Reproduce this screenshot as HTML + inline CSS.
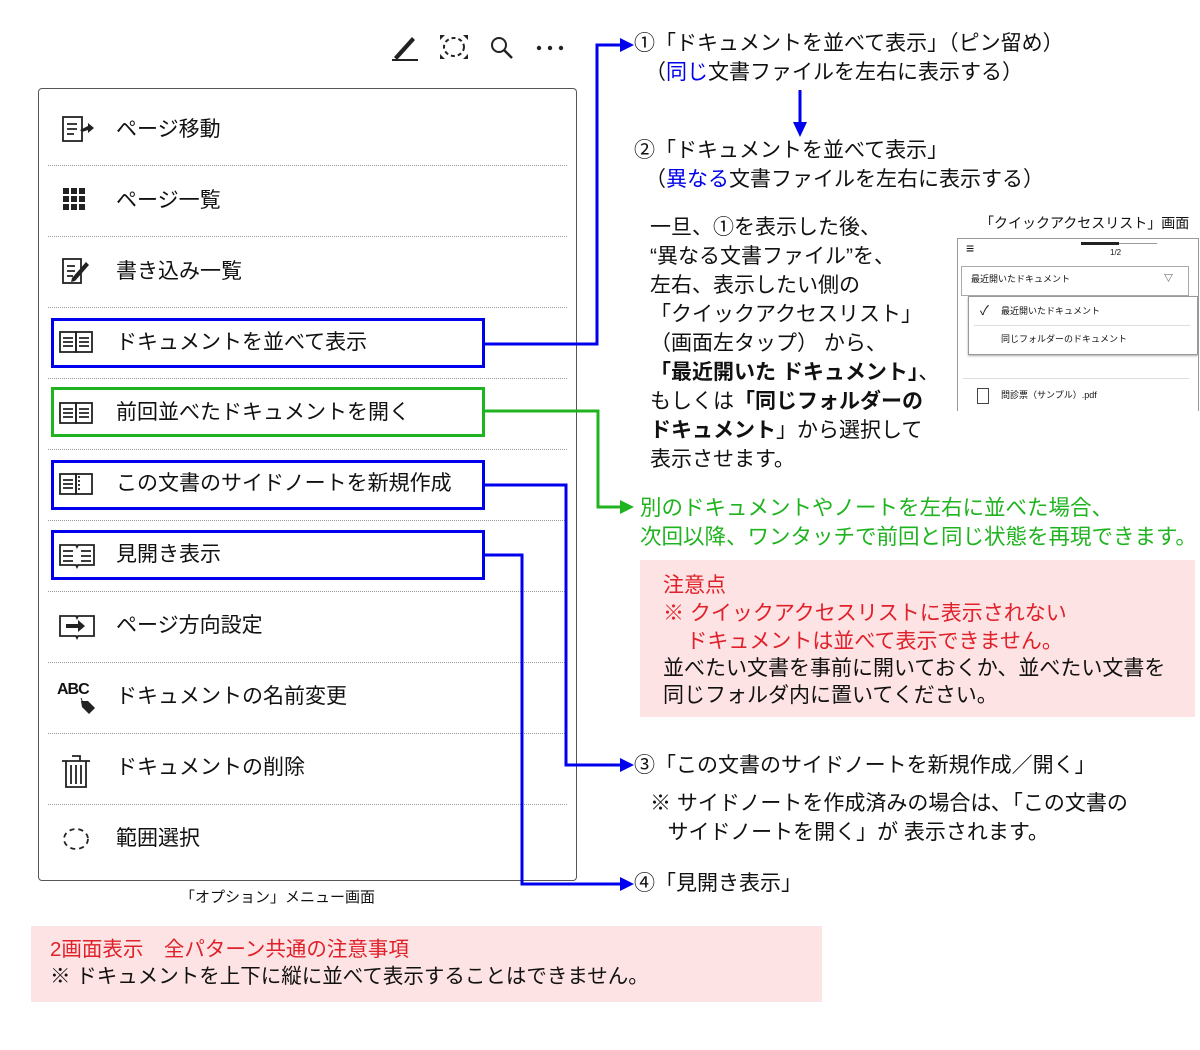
<!DOCTYPE html>
<html><head><meta charset="utf-8"><style>
body{margin:0;width:1200px;height:1050px;background:#fff;position:relative;overflow:hidden;font-family:"Liberation Sans","Noto Sans CJK JP",sans-serif;color:#111}
.t{position:absolute;white-space:nowrap;line-height:1}
.m{font-size:21px;left:116px}
.r{font-size:21px}
.b{color:#0000ee}.g{color:#1fb41f}.red{color:#e0202a}
.sep{position:absolute;left:48px;width:519px;border-top:1px dotted #999}
.hb{position:absolute;left:51px;width:428px;height:44px;border:3px solid #0000ee}
</style></head><body>
<svg style="position:absolute;left:380px;top:25px" width="200" height="45">
<line x1="12" y1="35" x2="38" y2="35" stroke="#222" stroke-width="2"/>
<path d="M14 32 L32 12 L35 15 L17 35 Z" fill="#222"/>
<ellipse cx="74" cy="22" rx="10" ry="9" fill="none" stroke="#222" stroke-width="2" stroke-dasharray="4 3"/>
<path d="M60 10h5l-5 5zM88 10h-5l5 5zM60 34h5l-5-5zM88 34h-5l5-5z" fill="#222"/>
<circle cx="119" cy="20" r="7" fill="none" stroke="#222" stroke-width="2"/><line x1="124" y1="25" x2="132" y2="33" stroke="#222" stroke-width="2.5"/>
<circle cx="159" cy="23" r="2.2" fill="#222"/><circle cx="170" cy="23" r="2.2" fill="#222"/><circle cx="181" cy="23" r="2.2" fill="#222"/>
</svg>
<div style="position:absolute;left:38px;top:88px;width:537px;height:791px;border:1.5px solid #555;border-radius:4px"></div>
<div class="sep" style="top:165px"></div><div class="sep" style="top:236px"></div><div class="sep" style="top:307px"></div><div class="sep" style="top:378px"></div><div class="sep" style="top:449px"></div><div class="sep" style="top:520px"></div><div class="sep" style="top:591px"></div><div class="sep" style="top:662px"></div><div class="sep" style="top:733px"></div><div class="sep" style="top:804px"></div>
<div class="hb" style="top:318px"></div>
<div class="hb" style="top:387px;border-color:#1fb41f"></div>
<div class="hb" style="top:460px"></div>
<div class="hb" style="top:530px"></div>
<svg style="position:absolute;left:50px;top:100px" width="60" height="770">
<g fill="none" stroke="#222" stroke-width="1.8">
<rect x="13" y="17" width="19" height="24"/><path d="M17 24h10M17 29h10M17 34h7"/>
<rect x="13" y="159" width="18" height="24"/><path d="M17 166h8M17 171h8M17 176h6"/>
<rect x="10" y="232" width="16" height="20"/><path d="M13 238h10M13 242h10M13 246h10"/><rect x="26" y="232" width="16" height="20"/><path d="M29 238h10M29 242h10M29 246h10"/>
<rect x="10" y="303" width="16" height="20"/><path d="M13 309h10M13 313h10M13 317h10"/><rect x="26" y="303" width="16" height="20"/><path d="M29 309h10M29 313h10M29 317h10"/>
<rect x="10" y="374" width="16" height="20"/><path d="M13 380h10M13 384h10M13 388h10"/><rect x="26" y="374" width="16" height="20"/><path d="M29 376v16" stroke-dasharray="2 2"/>
<path d="M10 445v20h16l1 2 1-2h16v-20h-16l-1 2-1-2z"/><path d="M13 451h10M13 456h10M13 461h10M31 451h10M31 456h10M31 461h10"/>
<path d="M10 516v20h16l1 2 1-2h16v-20h-16l-1 2-1-2z"/>
<path d="M16 661h20v26h-20z M12 661h28 M22 656h8v5 M21 665v19 M26 665v19 M31 665v19"/>
<ellipse cx="26" cy="739" rx="12" ry="10" stroke-dasharray="5 4"/>
</g>
<path d="M30 30l8-4v-3l6 5-6 5v-3l-6 2z" fill="#222"/>
<path d="M13 88h6v6h-6zM21 88h6v6h-6zM29 88h6v6h-6zM13 96h6v6h-6zM21 96h6v6h-6zM29 96h6v6h-6zM13 104h6v6h-6zM21 104h6v6h-6zM29 104h6v6h-6z" fill="#222"/>
<path d="M22 178l14-16 3 3-14 16-4 1z" fill="#222"/>
<path d="M16 524h12v-4l7 6-7 6v-4h-12z" fill="#222"/>
</svg>
<div class="t" style="left:57px;top:682px;font-size:16px;font-weight:bold;letter-spacing:-1px">ABC</div>
<svg style="position:absolute;left:78px;top:698px" width="20" height="18"><path d="M3 3h7l7 7-6 6-7-7z" fill="#222"/><line x1="3" y1="0" x2="5" y2="5" stroke="#222"/></svg>
<div class="t m" style="top:119px">ページ移動</div>
<div class="t m" style="top:190px">ページ一覧</div>
<div class="t m" style="top:261px">書き込み一覧</div>
<div class="t m" style="top:332px">ドキュメントを並べて表示</div>
<div class="t m" style="top:402px">前回並べたドキュメントを開く</div>
<div class="t m" style="top:473px">この文書のサイドノートを新規作成</div>
<div class="t m" style="top:544px">見開き表示</div>
<div class="t m" style="top:615px">ページ方向設定</div>
<div class="t m" style="top:686px">ドキュメントの名前変更</div>
<div class="t m" style="top:757px">ドキュメントの削除</div>
<div class="t m" style="top:828px">範囲選択</div>
<div class="t" style="left:180px;top:890px;font-size:15px">「オプション」メニュー画面</div>
<svg style="position:absolute;left:0;top:0" width="1200" height="1050">
<g fill="none" stroke-width="3">
<path d="M484 344H597V45H622" stroke="#0000ee"/>
<path d="M800 90V125" stroke="#0000ee"/>
<path d="M484 411H598V507H622" stroke="#1fb41f"/>
<path d="M484 485H566V765H622" stroke="#0000ee"/>
<path d="M484 555H522V884H622" stroke="#0000ee"/>
</g>
<path d="M620 38L634 45L620 52Z" fill="#0000ee"/>
<path d="M793 122L800 137L807 122Z" fill="#0000ee"/>
<path d="M620 500L634 507L620 514Z" fill="#1fb41f"/>
<path d="M620 758L634 765L620 772Z" fill="#0000ee"/>
<path d="M620 877L634 884L620 891Z" fill="#0000ee"/>
</svg>
<div class="t r" style="left:634px;top:33px">①「ドキュメントを並べて表示」（ピン留め）</div>
<div class="t r" style="left:645px;top:62px">（<span class="b">同じ</span>文書ファイルを左右に表示する）</div>
<div class="t r" style="left:634px;top:140px">②「ドキュメントを並べて表示」</div>
<div class="t r" style="left:645px;top:169px">（<span class="b">異なる</span>文書ファイルを左右に表示する）</div>
<div class="t r" style="left:650px;top:213px;line-height:29px">一旦、①を表示した後、<br>“異なる文書ファイル”を、<br>左右、表示したい側の<br>「クイックアクセスリスト」<br>（画面左タップ）  から、<br><b>「最近開いた  ドキュメント」</b>、<br>もしくは<b>「同じフォルダーの</b><br><b>ドキュメント</b>」から選択して<br>表示させます。</div>
<div class="t" style="left:980px;top:216px;font-size:14px">「クイックアクセスリスト」画面</div>
<div style="position:absolute;left:957px;top:238px;width:240px;height:172px;border:1px solid #999;border-bottom:none;overflow:hidden;font-size:9px">
<div class="t" style="left:8px;top:2px;font-size:14px">≡</div>
<div style="position:absolute;left:123px;top:4px;width:76px;border-top:1px solid #999"></div>
<div style="position:absolute;left:123px;top:3px;width:38px;border-top:3px solid #222"></div>
<div class="t" style="left:152px;top:10px;font-size:8px">1/2</div>
<div style="position:absolute;left:3px;top:27px;width:226px;height:28px;border:1px solid #aaa"></div>
<div class="t" style="left:13px;top:36px">最近開いたドキュメント</div>
<div class="t" style="left:206px;top:35px">▽</div>
<div style="position:absolute;left:10px;top:57px;width:228px;height:57px;border:1px solid #999;background:#fff;box-shadow:0 1px 2px #aaa"></div>
<div class="t" style="left:22px;top:65px;font-size:13px">✓</div>
<div class="t" style="left:43px;top:68px">最近開いたドキュメント</div>
<div style="position:absolute;left:16px;top:86px;width:216px;border-top:1px solid #ddd"></div>
<div class="t" style="left:43px;top:96px">同じフォルダーのドキュメント</div>
<div style="position:absolute;left:5px;top:139px;width:226px;border-top:1px solid #ddd"></div>
<div style="position:absolute;left:19px;top:149px;width:10px;height:14px;border:1px solid #444"></div>
<div class="t" style="left:43px;top:152px">問診票（サンプル）.pdf</div>
</div>
<div class="t r g" style="left:640px;top:494px;line-height:29px;font-size:21.5px">別のドキュメントやノートを左右に並べた場合、<br>次回以降、ワンタッチで前回と同じ状態を再現できます。</div>
<div style="position:absolute;left:640px;top:560px;width:555px;height:157px;background:#fde3e3"></div>
<div class="t r red" style="left:663px;top:572px;line-height:28px">注意点<br>※ クイックアクセスリストに表示されない<br>&nbsp;&nbsp;&nbsp;&nbsp;ドキュメントは並べて表示できません。</div>
<div class="t r" style="left:663px;top:655px;line-height:27px">並べたい文書を事前に開いておくか、並べたい文書を<br>同じフォルダ内に置いてください。</div>
<div class="t r" style="left:634px;top:755px">③「この文書のサイドノートを新規作成／開く」</div>
<div class="t r" style="left:650px;top:789px;line-height:29px">※ サイドノートを作成済みの場合は､「この文書の<br>&nbsp;&nbsp;&nbsp;サイドノートを開く」が  表示されます。</div>
<div class="t r" style="left:634px;top:873px">④「見開き表示」</div>
<div style="position:absolute;left:31px;top:926px;width:791px;height:76px;background:#fde3e3"></div>
<div class="t red" style="left:50px;top:940px;font-size:20.5px">2画面表示　全パターン共通の注意事項</div>
<div class="t" style="left:50px;top:967px;font-size:20.5px">※ ドキュメントを上下に縦に並べて表示することはできません。</div>
</body></html>
